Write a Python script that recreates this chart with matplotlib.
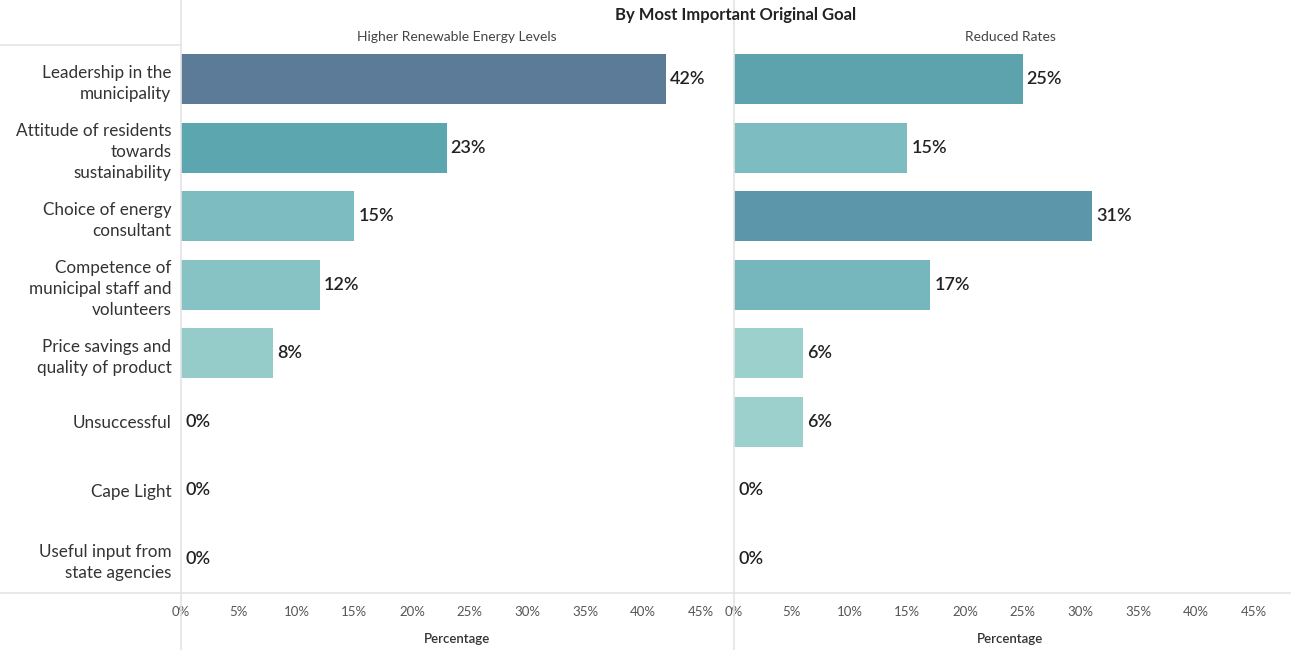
import matplotlib
matplotlib.use("Agg")
import matplotlib.pyplot as plt
from matplotlib.colors import LinearSegmentedColormap
from matplotlib.lines import Line2D
import numpy as np

categories = [
    "Leadership in the\nmunicipality",
    "Attitude of residents\ntowards\nsustainability",
    "Choice of energy\nconsultant",
    "Competence of\nmunicipal staff and\nvolunteers",
    "Price savings and\nquality of product",
    "Unsuccessful",
    "Cape Light",
    "Useful input from\nstate agencies",
]
panel_titles = ["Higher Renewable Energy Levels", "Reduced Rates"]
higher_renewable = [42, 23, 15, 12, 8, 0, 0, 0]
reduced_rates = [25, 15, 31, 17, 6, 6, 0, 0]
tick_values = [0, 5, 10, 15, 20, 25, 30, 35, 40, 45]
title = "By Most Important Original Goal"
x_label = "Percentage"

plt.rcParams["font.family"] = ["Lato", "DejaVu Sans"]

cmap = LinearSegmentedColormap.from_list(
    "blue_teal",
    [(0.0, "#a6d7d3"), (0.143, "#9bd0cd"), (0.357, "#7dbcc0"),
     (0.548, "#5ca7af"), (0.738, "#5b96ab"), (1.0, "#5b7b98")],
)
vmax = 42

fig = plt.figure(figsize=(12.91, 6.5), dpi=100)
W, H = 1291, 650

def fx(px):
    return px / W

def fy(py):
    return 1 - py / H

top_px, bot_px = 45, 593
panels = [(181, higher_renewable), (734, reduced_rates)]
panel_w = 552
n = len(categories)
y = np.arange(n)

for i, (left_px, vals) in enumerate(panels):
    ax = fig.add_axes([fx(left_px), fy(bot_px), panel_w / W, (bot_px - top_px) / H])
    colors = [cmap(v / vmax) for v in vals]
    ax.barh(y, vals, height=0.73, color=colors, zorder=2)
    ax.set_ylim(n - 0.5, -0.5)
    ax.set_xlim(0, 47.8)
    for yi, v in zip(y, vals):
        ax.text(v + 0.35, yi, f"{v}%", va="center", ha="left",
                fontsize=13, color="#222222", fontweight="semibold")
    ax.set_xticks(tick_values)
    ax.set_xticklabels([f"{t}%" for t in tick_values], fontsize=9.5, color="#555555")
    ax.tick_params(axis="x", length=0, pad=9)
    ax.set_xlabel(x_label, fontsize=9.5, color="#333333", fontweight="semibold", labelpad=11)
    for s in ax.spines.values():
        s.set_visible(False)
    ax.set_title(panel_titles[i], fontsize=10, color="#444444", pad=3)
    if i == 0:
        ax.set_yticks(y)
        ax.set_yticklabels(categories, fontsize=12.3, color="#333333", linespacing=1.38)
        ax.tick_params(axis="y", length=0, pad=7)
    else:
        ax.set_yticks([])

fig.text(fx(736), fy(15), title, ha="center", va="center",
         fontsize=12, fontweight="bold", color="#222222")

# panel separators and frame lines
line_color = "#e4e4e4"
for xp in (181, 734):
    fig.add_artist(Line2D([fx(xp), fx(xp)], [0, 1], color=line_color, lw=1.2,
                          transform=fig.transFigure))
fig.add_artist(Line2D([0, 1], [fy(bot_px), fy(bot_px)], color=line_color, lw=1.2,
                      transform=fig.transFigure))
fig.add_artist(Line2D([0, fx(181)], [fy(top_px), fy(top_px)], color=line_color, lw=1.2,
                      transform=fig.transFigure))

fig.savefig("out.png", dpi=100)
